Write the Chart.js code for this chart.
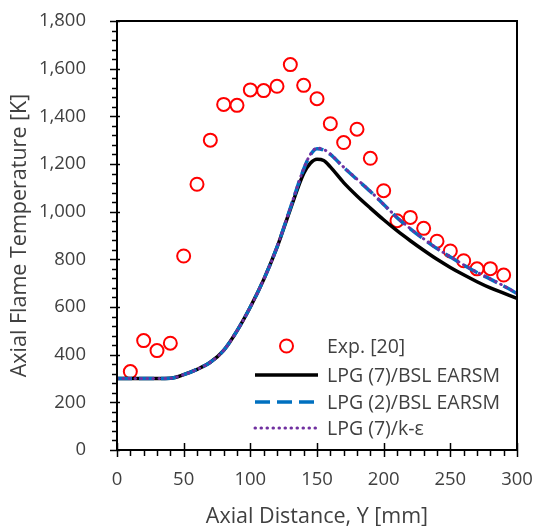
<!DOCTYPE html>
<html><head><meta charset="utf-8">
<script src="https://cdn.jsdelivr.net/npm/chart.js@4"></script>
<style>html,body{margin:0;padding:0;background:#fff}#wrap{width:537px;height:526px}</style>
</head><body><div id="wrap"><canvas id="c" width="537" height="526"></canvas></div>
<script>
const expX = [10,20,30,40,50,60,70,80,90,100,110,120,130,140,150,160,170,180,190,200,210,220,230,240,250,260,270,280,290];
const expY = [329,459,417,448,814,1115,1300,1450,1446,1511,1508,1526,1617,1530,1474,1369,1290,1346,1224,1088,962,976,930,876,835,794,760,761,734];
const modelX = [0,10,20,30,40,50,60,70,80,90,100,110,120,130,140,145,150,155,160,170,180,190,200,210,220,230,240,250,260,270,280,290,300];
const lpg7Bsl = [300,300,300,300,301,316,338,368,418,500,600,715,850,1010,1160,1203,1220,1215,1188,1122,1066,1015,966,920,878,838,800,766,735,706,680,658,636];
const lpg2Bsl = [300,300,300,300,301,316,338,368,418,500,600,715,851,1015,1178,1238,1264,1258,1240,1186,1135,1085,1030,975,928,885,845,810,776,745,717,688,657];
const lpg7Ke  = [300,300,300,300,301,316,338,368,418,500,600,715,851,1016,1180,1240,1267,1261,1242,1187,1136,1086,1031,976,929,886,846,811,777,746,718,689,658];
const xTicks = [0,50,100,150,200,250,300];
const yTicks = [0,200,400,600,800,1000,1200,1400,1600,1800];
const labels = ['Exp. [20]','LPG (7)/BSL EARSM','LPG (2)/BSL EARSM','LPG (7)/k-ε'];

const FONT = "'Open Sans', sans-serif";
const TXT = '#404040';
const pts = (xs, ys) => xs.map((x, i) => ({x, y: ys[i]}));

const framePlugin = {
  id: 'frame',
  afterDraw(chart) {
    const {ctx, chartArea: a, scales: {x, y}} = chart;
    ctx.save();
    ctx.strokeStyle = '#000';
    ctx.lineWidth = 2;
    ctx.strokeRect(a.left, a.top, a.right - a.left, a.bottom - a.top);
    ctx.lineWidth = 1.5;
    for (let v = 0; v <= 1800; v += 40) {
      const py = Math.round(y.getPixelForValue(v)) + 0.5;
      const major = v % 200 === 0;
      ctx.beginPath();
      ctx.moveTo(a.left - (major ? 7 : 5), py);
      ctx.lineTo(a.left + (major ? 3 : 0), py);
      ctx.stroke();
    }
    for (let v = 0; v <= 300; v += 10) {
      const px = Math.round(x.getPixelForValue(v)) + 0.5;
      const major = v % 50 === 0;
      ctx.beginPath();
      ctx.moveTo(px, a.bottom - (major ? 7 : 0));
      ctx.lineTo(px, a.bottom + (major ? 7 : 6));
      ctx.stroke();
    }
    const ds = chart.data.datasets;
    const lx0 = 255, lx1 = 318, tx = 327;
    const rows = [346, 375, 402, 428];
    ctx.font = "19.5px " + FONT;
    ctx.textBaseline = 'middle';
    ctx.textAlign = 'left';
    rows.forEach((ry, i) => {
      const d = ds[i];
      ctx.beginPath();
      ctx.strokeStyle = d.borderColor;
      ctx.lineWidth = d.borderWidth;
      if (i === 0) {
        ctx.setLineDash([]);
        ctx.arc((lx0 + lx1) / 2, ry, d.pointRadius, 0, Math.PI * 2);
        ctx.stroke();
      } else {
        ctx.setLineDash(d.borderDash || []);
        ctx.lineCap = d.borderCapStyle || 'butt';
        ctx.moveTo(lx0, ry);
        ctx.lineTo(lx1, ry);
        ctx.stroke();
        ctx.setLineDash([]);
        ctx.lineCap = 'butt';
      }
      ctx.fillStyle = TXT;
      ctx.fillText(d.label, tx, ry + 1);
    });
    ctx.restore();
  }
};

new Chart(document.getElementById('c'), {
  type: 'scatter',
  data: {
    datasets: [
      {label: labels[0], data: pts(expX, expY), showLine: false, pointStyle: 'circle', pointRadius: 6.5, pointHoverRadius: 6.5,
       borderColor: '#FF0000', backgroundColor: 'rgba(0,0,0,0)', borderWidth: 2, order: 3},
      {label: labels[1], data: pts(modelX, lpg7Bsl), showLine: true, pointRadius: 0, borderColor: '#000000', borderWidth: 3.5,
       cubicInterpolationMode: 'monotone', order: 2},
      {label: labels[2], data: pts(modelX, lpg2Bsl), showLine: true, pointRadius: 0, borderColor: '#0070C0', borderWidth: 3.5,
       borderDash: [15, 7], cubicInterpolationMode: 'monotone', order: 1},
      {label: labels[3], data: pts(modelX, lpg7Ke), showLine: true, pointRadius: 0, borderColor: '#7030A0', borderWidth: 3,
       borderDash: [0.5, 5.5], borderCapStyle: 'round', cubicInterpolationMode: 'monotone', order: 0}
    ]
  },
  options: {
    responsive: false,
    animation: false,
    devicePixelRatio: 1,
    layout: {padding: {top: 21, right: 20, left: 0, bottom: 0}},
    plugins: {legend: {display: false}, tooltip: {enabled: false}},
    scales: {
      x: {
        type: 'linear', min: 0, max: 300,
        afterFit(s) { s.height = 76; s.paddingLeft = 0; s.paddingRight = 0; },
        afterBuildTicks(s) { s.ticks = xTicks.map(v => ({value: v})); },
        grid: {display: false}, border: {display: false},
        ticks: {padding: 11, color: TXT, font: {family: FONT, size: 18.5}, maxRotation: 0},
        title: {display: true, text: 'Axial Distance, Y [mm]', color: TXT, font: {family: FONT, size: 21.5, lineHeight: 0.85}, padding: {top: 0, bottom: 0}}
      },
      y: {
        type: 'linear', min: 0, max: 1800,
        afterFit(s) { s.width = 117; s.paddingTop = 0; s.paddingBottom = 0; },
        afterBuildTicks(s) { s.ticks = yTicks.map(v => ({value: v})); },
        grid: {display: false}, border: {display: false},
        ticks: {padding: 23, color: TXT, font: {family: FONT, size: 18.5}, callback: v => v.toLocaleString('en-US')},
        title: {display: true, text: 'Axial Flame Temperature [K]', color: TXT, font: {family: FONT, size: 21.5, lineHeight: 1}, padding: {top: 9.5, bottom: 0}}
      }
    }
  },
  plugins: [framePlugin]
});
</script>
</body></html>
